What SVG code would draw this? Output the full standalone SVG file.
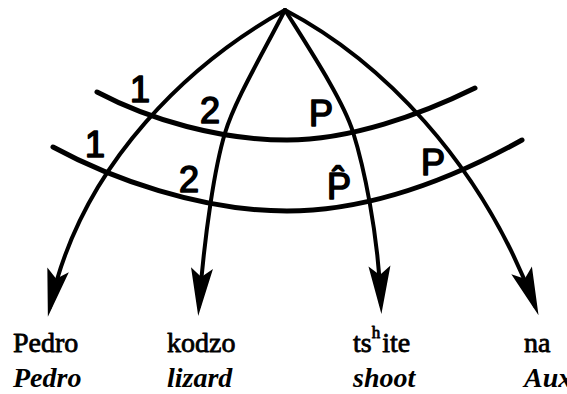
<svg xmlns="http://www.w3.org/2000/svg" width="567" height="394" viewBox="0 0 567 394">
<style>
.rad{fill:none;stroke:#000;stroke-width:4;stroke-linecap:round;stroke-linejoin:round}
.tr{fill:none;stroke:#000;stroke-width:5;stroke-linecap:round}
.lab{font-family:"Liberation Sans",Arial,sans-serif;font-size:36px;fill:#000;stroke:#000;stroke-width:1.6;stroke-linejoin:round}
.w{font-family:"Liberation Serif","Times New Roman",serif;font-size:28px;fill:#000;stroke:#000;stroke-width:0.8;stroke-linejoin:round}
.g{font-family:"Liberation Serif","Times New Roman",serif;font-size:28px;font-weight:bold;font-style:italic;fill:#000}
</style>
<defs>
<marker id="ah" viewBox="-40 -12 52 24" markerWidth="52" markerHeight="24" refX="0" refY="0" orient="auto" markerUnits="userSpaceOnUse">
<path d="M-38,-11 L10,0 L-38,11 L-29,0 Z" fill="#000"/>
</marker>
</defs>
<rect width="567" height="394" fill="#fff"/>
<g id="connectors">
<path class="rad" d="M285,10 C195,60 82,160 50,307" marker-end="url(#ah)"/>
<path class="rad" d="M285,10 C262,55 235,100 225,133 S205,230 199,306" marker-end="url(#ah)"/>
<path class="rad" d="M285,10 C310,50 343,100 353,132 S378,230 381,304" marker-end="url(#ah)"/>
<path class="rad" d="M285,10 C380,60 480,160 535,306" marker-end="url(#ah)"/>
<path class="tr" d="M97,92 C150,120 220,140 287,140 C350,140 420,115 475,88"/>
<path class="tr" d="M53,147 C110,178 200,211 287,211 C370,211 450,180 522,140"/>
</g>
<g id="labels">
<text class="lab" x="130" y="102">1</text>
<text class="lab" x="85" y="157">1</text>
<text class="lab" x="210" y="123" text-anchor="middle">2</text>
<text class="lab" x="189" y="192" text-anchor="middle">2</text>
<text class="lab" x="321" y="126" text-anchor="middle">P</text>
<text class="lab" x="339" y="199" text-anchor="middle">P̂</text>
<text class="lab" x="433" y="175" text-anchor="middle">P</text>
</g>
<g id="node-pedro">
<text class="w" x="13" y="352">Pedro</text>
<text class="g" x="13" y="387">Pedro</text>
</g>
<g id="node-kodzo">
<text class="w" x="167" y="352">kodzo</text>
<text class="g" x="167" y="387">lizard</text>
</g>
<g id="node-tshite">
<text class="w" x="353" y="352">ts<tspan font-size="17" dy="-14">h</tspan><tspan dx="2" dy="14">ite</tspan></text>
<text class="g" x="353" y="387">shoot</text>
</g>
<g id="node-na">
<text class="w" x="524" y="352">na</text>
<text class="g" x="524" y="387">Aux</text>
</g>
</svg>
